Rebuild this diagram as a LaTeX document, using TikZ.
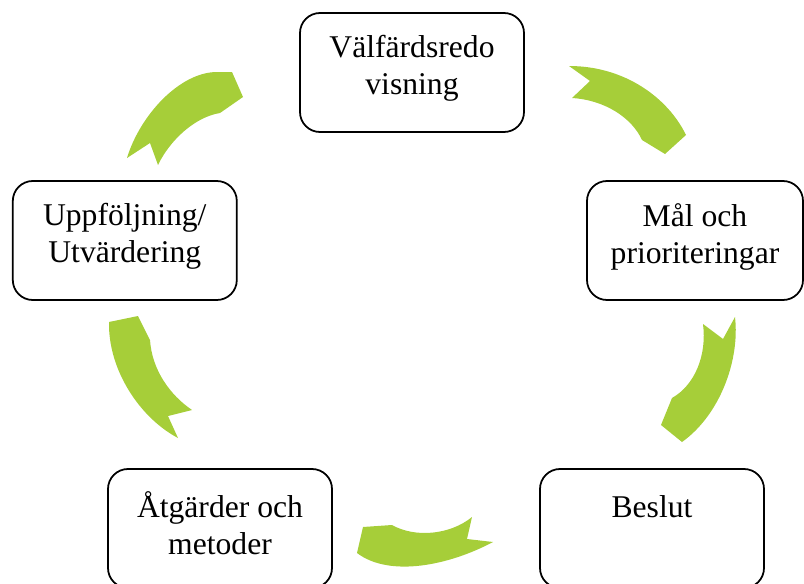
\documentclass[tikz,border=0pt]{standalone}
\usepackage{fontspec}
\setmainfont{Liberation Serif}
\usepackage{tikz}
\usetikzlibrary{calc}
\definecolor{cyclegreen}{RGB}{166,206,57}

\begin{document}
\begin{tikzpicture}[x=0.03cm, y=-0.03cm,
  box/.style={rectangle, rounded corners=0.6cm, draw, line width=1.5pt, minimum width=6.72cm, minimum height=3.57cm},
  lbl/.style={anchor=north, align=center, inner sep=0pt, font=\fontsize{27}{31.6}\selectfont, execute at begin node={\vphantom{Å}}, yshift=-0.69cm},
  cyc/.style={fill=cyclegreen}]
 \useasboundingbox (0,0) rectangle (804,584);
 \clip (0,0) rectangle (804,584);
 \node [box] (welfare)  at (412,72.5)  {};
 \node [box, minimum width=6.48cm] (goals) at (695,240.5) {};
 \node [box] (decision) at (652,528.5) {};
 \node [box] (actions)  at (220,528.5) {};
 \node [box] (followup) at (124.8,240.5) {};
 \node [lbl] (welfaretxt)  at (welfare.north)  {Välfärdsredo\\visning};
 \node [lbl] (goalstxt)    at (goals.north)    {Mål och\\prioriteringar};
 \node [lbl] (decisiontxt) at (decision.north) {Beslut};
 \node [lbl] (actionstxt)  at (actions.north)  {Åtgärder och\\metoder};
 \node [lbl] (followuptxt) at (followup.north) {Uppföljning/\\Utvärdering};
  \fill [cyc] (127,158) -- (150,143) -- (158,165) .. controls (170,140) and (195,117) .. (220,113) -- (243,97) -- (232,72) -- (217,72) .. controls (180,72) and (140,115) .. (127,158) -- cycle;
  \fill [cyc] (569,66) -- (590,81) -- (572,98) .. controls (605,100) and (632,118) .. (642,140) -- (665,154) -- (686,135) .. controls (668,98) and (625,66) .. (569,66) -- cycle;
  \fill [cyc] (735,317) -- (723,339) -- (703,324) .. controls (707,355) and (695,385) .. (672,398) -- (661,425) -- (682,442) .. controls (720,415) and (740,360) .. (735,317) -- cycle;
  \fill [cyc] (472,517) -- (467,539) -- (493,542) .. controls (450,565) and (390,578) .. (357,553) -- (363,527) -- (392,525) .. controls (415,538) and (450,535) .. (472,517) -- cycle;
  \fill [cyc] (192,410) -- (168,416) -- (178,438) .. controls (140,418) and (108,370) .. (109,322) -- (138,316) -- (150,340) .. controls (152,370) and (170,395) .. (192,410) -- cycle;
\end{tikzpicture}
\end{document}
